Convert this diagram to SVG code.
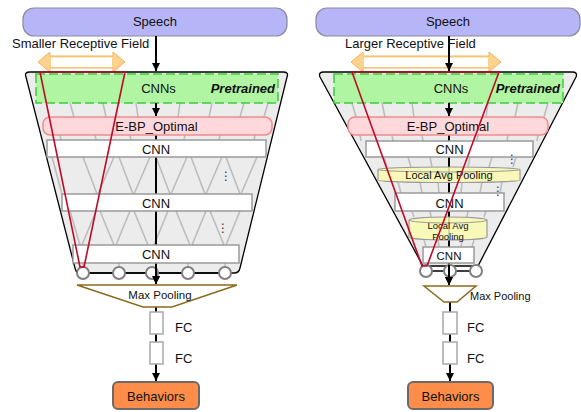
<svg xmlns="http://www.w3.org/2000/svg" width="581" height="412" viewBox="0 0 581 412">
<style>
text{font-family:"Liberation Sans",Arial,sans-serif;fill:#111}
.c{text-anchor:middle}
.speech{fill:#b5b5f7;stroke:#8a8a9a;stroke-width:1.2}
.trap{fill:#ececec;stroke:#000;stroke-width:1.3}
.lat{stroke:#bdbdbd;stroke-width:1.6;fill:none}
.green{fill:#b0f5a2;stroke:#3ccc3c;stroke-width:1.5;stroke-dasharray:9 4}
.ebp{fill:#ffd8dc;stroke:#f08a8a;stroke-width:1.5}
.cnn{fill:#fff;stroke:#9a9a9a;stroke-width:1.5}
.cyl{fill:#fafab0;fill-opacity:0.85;stroke:#9a9a9a;stroke-width:1.2}
.circ{fill:#fff;stroke:#808080;stroke-width:2}
.red{fill:none;stroke:#c00a28;stroke-width:1.6;stroke-linejoin:round}
.mp{fill:#fff;stroke:#8b6a1e;stroke-width:1.5}
.fc{fill:#fff;stroke:#a8a8a8;stroke-width:1.5}
.beh{fill:#fd8d48;stroke:#6a6a6a;stroke-width:2}
.conn{stroke:#000;stroke-width:2;fill:none}
.arrowFill{fill:#fdd28f;stroke:#f0b45a;stroke-width:1}
.dots{font-family:"DejaVu Sans",sans-serif;font-size:12px;fill:#333}
</style>
<defs>
<marker id="ah" markerUnits="userSpaceOnUse" markerWidth="9" markerHeight="8" refX="8" refY="4" orient="auto">
<path d="M0,0 L8,4 L0,8 Z" fill="#000"/>
</marker>
<clipPath id="clipL"><path d="M30,72 L283,72 Q289,72 287,77 L240,268 Q239,273 234,273 L80,273 Q76,273 75,268 L26,77 Q24,72 30,72 Z"/></clipPath>
<clipPath id="clipR"><path d="M324,72 L572,72 Q578,72 576,77 L478,266 L423,266 L320,77 Q318,72 324,72 Z"/></clipPath>
</defs>

<!-- LEFT PANEL -->
<g id="speechL"><rect class="speech" x="23" y="8" width="264" height="28" rx="11"/><text class="c" x="155" y="26" font-size="13">Speech</text></g>
<text x="12" y="48" font-size="13">Smaller Receptive Field</text>
<g id="rfArrowL">
<path class="arrowFill" d="M38,62 L50,52 L50,56 L113,56 L113,52 L125,62 L113,72 L113,68 L50,68 L50,72 Z"/>
<rect x="51" y="57.5" width="61" height="9.5" fill="#fff"/>
</g>
<g id="funnelL">
<path class="trap" d="M30,72 L283,72 Q289,72 287,77 L240,268 Q239,273 234,273 L80,273 Q76,273 75,268 L26,77 Q24,72 30,72 Z"/>
<g class="lat" clip-path="url(#clipL)">
<path d="M70,103 L74,117 M103,103 L106,117 M136,103 L138,117 M180,103 L178,117 M212,103 L209,117 M244,103 L240,117 M268,103 L264,117"/>
<path d="M60,135 L61,140 M95,135 L96,140 M130,135 L131,140 M185,135 L184,140 M220,135 L219,140 M255,135 L254,140"/>
<path d="M52,157 L62,194 M83,157 L97,194 M114,157 L98,194 M119,157 L133,194 M150,157 L134,194 M156,157 L170,194 M187,157 L171,194 M191,157 L205,194 M222,157 L206,194 M226,157 L240,194 M257,157 L241,194"/>
<path d="M70,211 L80,245 M96,211 L82,245 M100,211 L114,245 M130,211 L116,245 M134,211 L148,245 M168,211 L154,245 M176,211 L190,245 M206,211 L192,245 M210,211 L224,245 M240,211 L226,245"/>
<path d="M83,263 L83,267 M119,263 L119,267 M188,263 L188,267 M225,263 L225,267"/>
</g>
</g>
<g id="cnnsL"><rect class="green" x="36" y="74" width="242" height="29"/><text class="c" x="158.5" y="93" font-size="13">CNNs</text><text x="275" y="93" font-size="13" font-weight="bold" font-style="italic" text-anchor="end">Pretrained</text></g>

<g id="connectorsL">
<line class="conn" x1="156" y1="36" x2="156" y2="71" marker-end="url(#ah)"/>
<line class="conn" x1="156" y1="103" x2="156" y2="116" marker-end="url(#ah)"/>
<line class="conn" x1="156" y1="135" x2="156" y2="284" marker-end="url(#ah)"/>
<line class="conn" x1="156" y1="307" x2="156" y2="312"/>
<line class="conn" x1="156" y1="334" x2="156" y2="342"/>
<line class="conn" x1="156" y1="364" x2="156" y2="381" marker-end="url(#ah)"/>
</g>

<g id="ebpL"><rect class="ebp" x="43" y="117" width="229" height="18" rx="7"/><text class="c" x="156.5" y="131" font-size="13">E-BP_Optimal</text></g>
<g id="cnn1L"><rect class="cnn" x="47" y="140" width="219" height="17"/><text class="c" x="156" y="153.5" font-size="13">CNN</text></g>
<g id="cnn2L"><rect class="cnn" x="62" y="194" width="190" height="17"/><text class="c" x="156" y="207.5" font-size="13">CNN</text></g>
<g id="cnn3L"><rect class="cnn" x="73" y="245" width="166" height="18"/><text class="c" x="156" y="259" font-size="13">CNN</text></g>
<text class="dots" x="220" y="180">⋮</text>
<text class="dots" x="217" y="232">⋮</text>
<g id="unitsL">
<line x1="83" y1="273" x2="225" y2="273" stroke="#000" stroke-width="1.3"/>
<circle class="circ" cx="83" cy="273" r="6"/>
<circle class="circ" cx="119" cy="273" r="6"/>
<circle class="circ" cx="152" cy="273" r="6"/>
<circle class="circ" cx="188" cy="273" r="6"/>
<circle class="circ" cx="225" cy="273" r="6"/>
</g>
<line class="conn" x1="156" y1="266" x2="156" y2="284" marker-end="url(#ah)"/>
<path id="rfL" class="red" d="M40,72 L125,72 L84,267 L80,267 Z"/>
<g id="maxpoolL"><polygon class="mp" points="77,285 237,285 172,307 143,307"/><text class="c" x="160" y="299" font-size="11.5">Max Pooling</text></g>
<g id="fc1L"><rect class="fc" x="150" y="312" width="13" height="22"/><text x="175" y="332" font-size="13">FC</text></g>
<g id="fc2L"><rect class="fc" x="150" y="342" width="13" height="22"/><text x="175" y="363" font-size="13">FC</text></g>
<g id="behL"><rect class="beh" x="113" y="382" width="86" height="27" rx="5"/><text class="c" x="156" y="401" font-size="13">Behaviors</text></g>

<!-- RIGHT PANEL -->
<g id="speechR"><rect class="speech" x="316" y="8" width="264" height="28" rx="11"/><text class="c" x="448" y="26" font-size="13">Speech</text></g>
<g id="rfArrowR">
<path class="arrowFill" d="M351,62 L363,52 L363,56 L489,56 L489,52 L501,62 L489,72 L489,68 L363,68 L363,72 Z"/>
<rect x="364" y="57.5" width="124" height="9.5" fill="#fff"/>
</g>
<text x="345" y="48" font-size="13">Larger Receptive Field</text>
<g id="funnelR">
<path class="trap" d="M324,72 L572,72 Q578,72 576,77 L478,266 L423,266 L320,77 Q318,72 324,72 Z"/>
<g class="lat" clip-path="url(#clipR)">
<path d="M352,103 L356,117 M382,103 L385,117 M412,103 L414,117 M488,103 L486,117 M518,103 L515,117 M548,103 L544,117"/>
<path d="M360,135 L361,141 M392,135 L393,141 M422,135 L423,141 M478,135 L477,141 M508,135 L507,141 M538,135 L537,141"/>
<path d="M384,157 L387,167 M408,157 L411,167 M430,157 L432,167 M470,157 L468,167 M492,157 L489,167 M516,157 L513,167"/>
<path d="M398,182 L401,193 M420,182 L422,193 M438,182 L439,193 M462,182 L461,193 M482,182 L480,193 M502,182 L500,193"/>
<path d="M412,211 L414,217 M430,211 L431,217 M468,211 L467,217 M486,211 L484,217"/>
<path d="M424,240 L426,247 M438,240 L439,247 M462,240 L461,247 M474,240 L472,247"/>
</g>
</g>
<g id="cnnsR"><rect class="green" x="334" y="74" width="229" height="29"/><text class="c" x="451" y="93" font-size="13">CNNs</text><text x="560" y="93" font-size="13" font-weight="bold" font-style="italic" text-anchor="end">Pretrained</text></g>

<g id="connectorsR">
<line class="conn" x1="449" y1="36" x2="449" y2="71" marker-end="url(#ah)"/>
<line class="conn" x1="449" y1="103" x2="449" y2="116" marker-end="url(#ah)"/>
<line class="conn" x1="449" y1="135" x2="449" y2="285" marker-end="url(#ah)"/>
<line class="conn" x1="450" y1="302" x2="450" y2="312"/>
<line class="conn" x1="450" y1="334" x2="450" y2="342"/>
<line class="conn" x1="450" y1="364" x2="450" y2="381" marker-end="url(#ah)"/>
</g>

<g id="ebpR"><rect class="ebp" x="348" y="117" width="200" height="18" rx="7"/><text class="c" x="448" y="131" font-size="13">E-BP_Optimal</text></g>
<g id="cnn1R"><rect class="cnn" x="366" y="141" width="167" height="16"/><text class="c" x="449.5" y="154" font-size="13">CNN</text></g>
<g id="lap1R">
<path class="cyl" d="M378,169.5 A71,2.5 0 0 1 520,169.5 L520,180 A71,2.5 0 0 1 378,180 Z"/>
<path d="M378,169.5 A71,2.5 0 0 0 520,169.5" fill="none" stroke="#9a9a9a" stroke-width="1"/>
<text class="c" x="449" y="179" font-size="11">Local Avg Pooling</text>
</g>
<g id="cnn2R"><rect class="cnn" x="395" y="193" width="109" height="18"/><text class="c" x="449.5" y="207.5" font-size="13">CNN</text></g>
<g id="lap2R">
<path class="cyl" d="M409,220 A39,3 0 0 1 487,220 L487,237 A39,3 0 0 1 409,237 Z"/>
<path d="M409,220 A39,3 0 0 0 487,220" fill="none" stroke="#9a9a9a" stroke-width="1"/>
<text class="c" x="448" y="228.5" font-size="9.5">Local Avg</text>
<text class="c" x="448" y="239.5" font-size="9.5">Pooling</text>
</g>
<g id="cnn3R"><rect class="cnn" x="423" y="247" width="51" height="16"/><text class="c" x="449" y="260" font-size="11.5">CNN</text></g>
<text class="dots" x="506" y="163">⋮</text>
<text class="dots" x="492" y="195">⋮</text>
<g id="unitsR">
<line x1="426" y1="271" x2="477" y2="271" stroke="#000" stroke-width="1.3"/>
<circle class="circ" cx="426" cy="271" r="6"/>
<circle class="circ" cx="450" cy="271" r="6"/>
<circle class="circ" cx="476" cy="271" r="6"/>
</g>
<line class="conn" x1="449" y1="265" x2="449" y2="285" marker-end="url(#ah)"/>
<path id="rfR" class="red" d="M352,72 L499,72 L427,266 L422,266 Z"/>
<g id="maxpoolR"><polygon class="mp" points="424,286 476,286 457,302 444,302"/><text x="470" y="300" font-size="11">Max Pooling</text></g>
<g id="fc1R"><rect class="fc" x="443" y="312" width="14" height="22"/><text x="467" y="332" font-size="13">FC</text></g>
<g id="fc2R"><rect class="fc" x="443" y="342" width="14" height="22"/><text x="467" y="363" font-size="13">FC</text></g>
<g id="behR"><rect class="beh" x="408" y="382" width="85" height="27" rx="5"/><text class="c" x="450.5" y="401" font-size="13">Behaviors</text></g>
</svg>
